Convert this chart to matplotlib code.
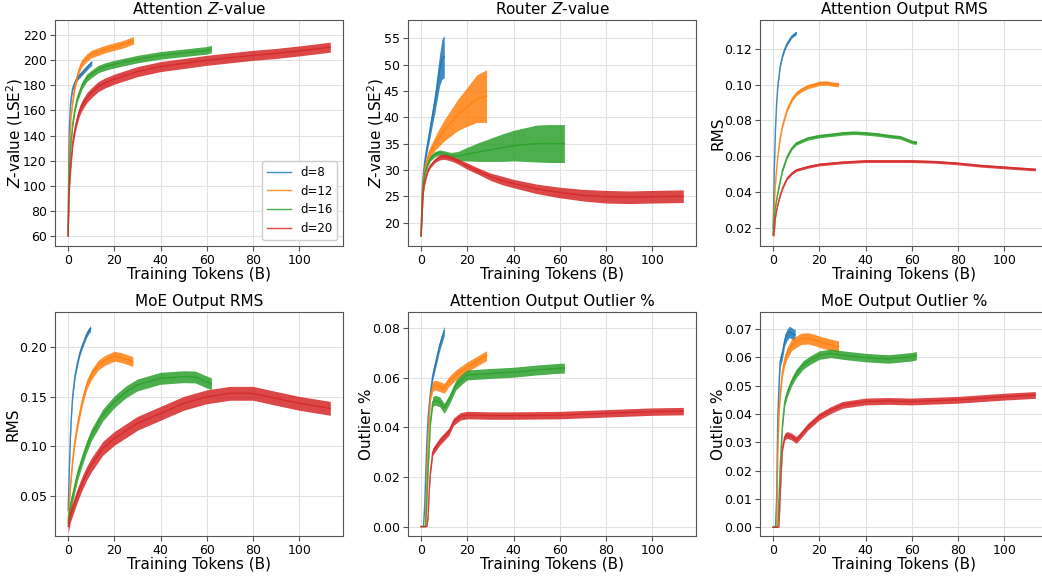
import numpy as np
import matplotlib
matplotlib.use("Agg")
import matplotlib.pyplot as plt

# series labels / colours
depths = ["d=8", "d=12", "d=16", "d=20"]
colors = ["#1f77b4", "#ff7f0e", "#2ca02c", "#d62728"]

# --- Attention Z-value ---
attz_x8 = [0, 0.2, 0.5, 1, 1.5, 2, 3, 4, 5, 6, 7, 8, 9, 10.2]
attz_y8 = [60, 110, 145, 165, 173, 178, 183, 186, 188, 190, 192, 194, 196, 198]
attz_x12 = [0, 0.3, 0.7, 1.2, 2, 3, 4, 5, 6, 8, 10, 13, 16, 20, 24, 28.3]
attz_y12 = [60, 105, 135, 155, 168, 180, 188, 194, 198, 202, 205, 207, 209, 211, 213, 216]
attz_x16 = [0, 0.3, 0.7, 1.2, 2, 3, 4, 6, 8, 10, 13, 16, 20, 25, 30, 40, 50, 60, 62]
attz_y16 = [60, 95, 118, 135, 150, 162, 170, 180, 186, 189, 193, 195, 197, 199, 201, 204, 206, 208, 209]
attz_x20 = [0, 0.3, 0.7, 1.2, 2, 3, 4, 5, 6, 8, 10, 13, 16, 20, 25, 30, 40, 50, 60, 70, 80, 90, 100, 113.5]
attz_y20 = [60, 88, 105, 118, 135, 146, 154, 160, 164, 170, 174, 179, 182, 185, 188, 191, 195, 197.5, 200, 202, 204, 205.5, 207.5, 210.5]
attz_spread = [2, 3, 3, 4]

# --- Router Z-value ---
rtz_x8 = [0, 0.3, 0.6, 1, 1.5, 2, 3, 4, 5, 6, 7, 8, 9, 10]
rtz_y8 = [17.5, 24, 27, 29.5, 31.5, 33, 35.5, 38, 40.5, 43, 46, 49, 51, 51.5]
rtz_s8 = [0.3, 0.5, 0.6, 0.7, 0.8, 1, 1.2, 1.5, 1.7, 2, 2.5, 3, 3.8, 4]
rtz_x12 = [0, 0.3, 0.6, 1, 1.5, 2, 3, 4, 6, 8, 10, 13, 16, 20, 24, 28.3]
rtz_y12 = [17.5, 23, 26, 28.5, 30, 31, 32.5, 33.5, 35, 36.3, 37.5, 39, 40.5, 42, 43.5, 44]
rtz_s12 = [0.3, 0.5, 0.5, 0.6, 0.7, 0.8, 1, 1, 1.3, 1.7, 2, 2.5, 3, 3.7, 4.5, 5]
rtz_x16 = [0, 0.3, 0.6, 1, 1.5, 2, 3, 4, 6, 8, 10, 13, 16, 20, 25, 30, 35, 40, 45, 50, 55, 60, 62]
rtz_y16 = [17.5, 22, 25, 27.5, 29, 30, 31.3, 32.2, 33, 33.3, 33.1, 32.7, 32.6, 33, 33.4, 33.8, 34.2, 34.6, 34.8, 35, 35, 35, 35]
rtz_s16 = [0.3, 0.4, 0.5, 0.5, 0.5, 0.5, 0.5, 0.5, 0.5, 0.5, 0.5, 0.6, 0.9, 1.3, 1.8, 2.2, 2.6, 2.9, 3.2, 3.5, 3.6, 3.6, 3.6]
rtz_x20 = [0, 0.3, 0.6, 1, 1.5, 2, 3, 4, 6, 8, 10, 12, 14, 16, 20, 25, 30, 35, 40, 50, 60, 70, 80, 90, 100, 113.5]
rtz_y20 = [17.5, 20.5, 23, 26, 27.5, 28.5, 30, 30.8, 31.8, 32.4, 32.5, 32.3, 32, 31.6, 30.7, 29.7, 28.7, 28, 27.4, 26.4, 25.7, 25.2, 24.9, 24.8, 24.9, 25]
rtz_s20 = [0.2, 0.3, 0.3, 0.3, 0.4, 0.4, 0.4, 0.4, 0.4, 0.5, 0.5, 0.5, 0.5, 0.5, 0.6, 0.6, 0.7, 0.8, 0.8, 0.9, 1, 1.1, 1.2, 1.2, 1.2, 1.2]

# --- Attention Output RMS ---
arms_x8 = [0, 0.3, 0.6, 1, 1.5, 2, 3, 4, 5, 6, 7, 8, 9, 10]
arms_y8 = [0.02, 0.04, 0.058, 0.075, 0.09, 0.099, 0.110, 0.116, 0.12, 0.123, 0.125, 0.127, 0.128, 0.129]
arms_x12 = [0, 0.3, 0.6, 1, 1.5, 2, 3, 4, 6, 8, 10, 12, 15, 18, 20, 23, 25, 28.3]
arms_y12 = [0.017, 0.028, 0.037, 0.045, 0.053, 0.06, 0.07, 0.077, 0.086, 0.0915, 0.095, 0.097, 0.099, 0.1, 0.1008, 0.101, 0.1005, 0.1]
arms_x16 = [0, 0.3, 0.6, 1, 1.5, 2, 3, 4, 6, 8, 10, 15, 20, 25, 30, 35, 40, 45, 50, 55, 60, 62]
arms_y16 = [0.016, 0.022, 0.027, 0.032, 0.036, 0.0395, 0.046, 0.052, 0.0597, 0.0644, 0.0672, 0.07, 0.0713, 0.072, 0.0728, 0.0732, 0.0728, 0.0722, 0.0713, 0.0706, 0.068, 0.0676]
arms_x20 = [0, 0.3, 0.6, 1, 1.5, 2, 3, 4, 6, 8, 10, 15, 20, 30, 40, 50, 60, 70, 80, 90, 100, 113.5]
arms_y20 = [0.016, 0.016, 0.02, 0.026, 0.03, 0.033, 0.038, 0.042, 0.0476, 0.0504, 0.0523, 0.0541, 0.0554, 0.0566, 0.0573, 0.0573, 0.0573, 0.0569, 0.056, 0.0547, 0.0538, 0.0526]
arms_spread = [0.001, 0.0012, 0.001, 0.0008]

# --- MoE Output RMS ---
mrms_x8 = [0, 0.3, 0.6, 1, 1.5, 2, 3, 4, 5, 6, 7, 8, 9, 9.7]
mrms_y8 = [0.035, 0.06, 0.085, 0.112, 0.135, 0.152, 0.172, 0.184, 0.194, 0.201, 0.207, 0.213, 0.217, 0.219]
mrms_x12 = [0, 0.5, 1, 2, 3, 4, 6, 8, 10, 13, 16, 20, 24, 28]
mrms_y12 = [0.025, 0.045, 0.061, 0.088, 0.107, 0.1215, 0.145, 0.162, 0.172, 0.182, 0.187, 0.191, 0.189, 0.1855]
mrms_x16 = [0, 0.5, 1, 2, 4, 6, 8, 10, 15, 20, 25, 30, 40, 50, 55, 60, 62]
mrms_y16 = [0.022, 0.032, 0.0406, 0.0507, 0.071, 0.086, 0.0996, 0.1114, 0.1316, 0.145, 0.155, 0.162, 0.1687, 0.1703, 0.17, 0.165, 0.163]
mrms_x20 = [0, 0.5, 1, 2, 4, 6, 8, 10, 15, 20, 30, 40, 50, 60, 70, 80, 90, 100, 113.5]
mrms_y20 = [0.019, 0.025, 0.0305, 0.0372, 0.0507, 0.0625, 0.0726, 0.081, 0.098, 0.108, 0.1232, 0.1333, 0.1434, 0.150, 0.1535, 0.1535, 0.1484, 0.1434, 0.1383]
mrms_spread = [0.003, 0.005, 0.006, 0.007]

# --- Attention Output Outlier % ---
aout_x8 = [0, 1, 1.5, 2, 2.5, 3, 4, 5, 6, 7, 8, 9, 10]
aout_y8 = [0, 0, 0.008, 0.022, 0.035, 0.044, 0.054, 0.061, 0.065, 0.069, 0.073, 0.076, 0.079]
aout_x12 = [0, 1.8, 2.5, 3, 4, 5, 6, 8, 10, 12, 15, 20, 25, 28.3]
aout_y12 = [0, 0, 0.02, 0.037, 0.053, 0.0565, 0.0572, 0.0565, 0.0558, 0.0585, 0.0612, 0.0645, 0.0672, 0.069]
aout_x16 = [0, 2, 2.5, 3, 4, 5, 6, 8, 10, 12, 15, 18, 20, 30, 40, 50, 60, 62]
aout_y16 = [0, 0, 0.012, 0.0235, 0.0424, 0.0504, 0.051, 0.0504, 0.0477, 0.051, 0.0571, 0.0598, 0.0612, 0.0618, 0.0623, 0.0632, 0.0639, 0.0639]
aout_x20 = [0, 2.5, 3, 3.5, 4, 5, 6, 8, 10, 12, 14, 17, 20, 30, 40, 60, 80, 100, 113.5]
aout_y20 = [0, 0, 0.0047, 0.015, 0.0222, 0.0302, 0.0316, 0.0343, 0.0363, 0.0383, 0.0423, 0.0445, 0.045, 0.0448, 0.0448, 0.045, 0.0457, 0.0464, 0.0466]
aout_spread = [0.002, 0.002, 0.002, 0.0015]

# --- MoE Output Outlier % ---
mout_x8 = [0, 1, 1.5, 2, 2.5, 3, 4, 5, 6, 7, 8, 9, 9.5]
mout_y8 = [0, 0, 0.01, 0.0385, 0.05, 0.0585, 0.0614, 0.0661, 0.0679, 0.069, 0.0685, 0.0679, 0.068]
mout_x12 = [0, 1.5, 2, 2.5, 3, 4, 5, 6, 8, 10, 12, 15, 18, 20, 25, 28.3]
mout_y12 = [0, 0, 0.0267, 0.04, 0.0467, 0.055, 0.059, 0.0614, 0.0644, 0.0655, 0.0665, 0.0667, 0.0661, 0.0655, 0.0644, 0.0638]
mout_x16 = [0, 2, 2.5, 3, 4, 5, 6, 8, 10, 13, 16, 20, 25, 30, 40, 50, 60, 62]
mout_y16 = [0, 0, 0.01, 0.0208, 0.0361, 0.0443, 0.0473, 0.0514, 0.0543, 0.0573, 0.059, 0.0608, 0.0614, 0.0608, 0.0599, 0.0594, 0.0602, 0.0606]
mout_x20 = [0, 2.5, 3, 3.5, 4, 5, 6, 8, 10, 12, 15, 20, 25, 30, 40, 50, 60, 80, 100, 113.5]
mout_y20 = [0, 0, 0.0102, 0.02, 0.0279, 0.032, 0.0326, 0.032, 0.0308, 0.0326, 0.0355, 0.0391, 0.0414, 0.0432, 0.0444, 0.0446, 0.0444, 0.045, 0.0461, 0.0467]
mout_spread = [0.002, 0.002, 0.0015, 0.0012]

panels = [
    ("Attention $Z$-value", "$Z$-value (LSE$^2$)",
     [(attz_x8, attz_y8, attz_spread[0]), (attz_x12, attz_y12, attz_spread[1]),
      (attz_x16, attz_y16, attz_spread[2]), (attz_x20, attz_y20, attz_spread[3])],
     (51.8, 232.2), [60, 80, 100, 120, 140, 160, 180, 200, 220], "{:.0f}"),
    ("Router $Z$-value", "$Z$-value (LSE$^2$)",
     [(rtz_x8, rtz_y8, rtz_s8), (rtz_x12, rtz_y12, rtz_s12),
      (rtz_x16, rtz_y16, rtz_s16), (rtz_x20, rtz_y20, rtz_s20)],
     (15.55, 58.45), [20, 25, 30, 35, 40, 45, 50, 55], "{:.0f}"),
    ("Attention Output RMS", "RMS",
     [(arms_x8, arms_y8, arms_spread[0]), (arms_x12, arms_y12, arms_spread[1]),
      (arms_x16, arms_y16, arms_spread[2]), (arms_x20, arms_y20, arms_spread[3])],
     (0.0098, 0.1362), [0.02, 0.04, 0.06, 0.08, 0.10, 0.12], "{:.2f}"),
    ("MoE Output RMS", "RMS",
     [(mrms_x8, mrms_y8, mrms_spread[0]), (mrms_x12, mrms_y12, mrms_spread[1]),
      (mrms_x16, mrms_y16, mrms_spread[2]), (mrms_x20, mrms_y20, mrms_spread[3])],
     (0.0093, 0.2357), [0.05, 0.10, 0.15, 0.20], "{:.2f}"),
    ("Attention Output Outlier %", "Outlier %",
     [(aout_x8, aout_y8, aout_spread[0]), (aout_x12, aout_y12, aout_spread[1]),
      (aout_x16, aout_y16, aout_spread[2]), (aout_x20, aout_y20, aout_spread[3])],
     (-0.0038, 0.0866), [0.0, 0.02, 0.04, 0.06, 0.08], "{:.2f}"),
    ("MoE Output Outlier %", "Outlier %",
     [(mout_x8, mout_y8, mout_spread[0]), (mout_x12, mout_y12, mout_spread[1]),
      (mout_x16, mout_y16, mout_spread[2]), (mout_x20, mout_y20, mout_spread[3])],
     (-0.0031, 0.076), [0.0, 0.01, 0.02, 0.03, 0.04, 0.05, 0.06, 0.07], "{:.2f}"),
]

W, H = 1042, 576
fig = plt.figure(figsize=(W / 100, H / 100), dpi=100)

lefts = [55, 408, 760]
rows = [(20, 246), (312, 536)]
aw = 288

for k, (title, ylabel, series, ylim, yticks, fmt) in enumerate(panels):
    top, bot = rows[k // 3]
    left = lefts[k % 3]
    ax = fig.add_axes([left / W, 1 - bot / H, aw / W, (bot - top) / H])
    for j, (xs, ys, sp) in enumerate(series):
        xs = np.array(xs, dtype=float)
        ys = np.array(ys, dtype=float)
        sp = np.broadcast_to(np.array(sp, dtype=float), ys.shape)
        sp = np.where(ys > 0, sp, 0)
        ax.fill_between(xs, ys - sp, ys + sp, color=colors[j], alpha=0.85, lw=0)
        ax.plot(xs, ys, color=colors[j], lw=1, alpha=0.85, label=depths[j])
    ax.set_xlim(-5.7, 119)
    ax.set_ylim(*ylim)
    ax.set_xticks([0, 20, 40, 60, 80, 100])
    ax.set_yticks(yticks)
    ax.set_yticklabels([fmt.format(v) for v in yticks])
    ax.set_title(title, fontsize=11, pad=4)
    ax.set_xlabel("Training Tokens (B)", fontsize=11, labelpad=0)
    ax.set_ylabel(ylabel, fontsize=11, labelpad=-1.5)
    ax.tick_params(labelsize=9, length=3.5, pad=2.5, color="#555555")
    ax.grid(True, color="#e2e2e2", lw=0.8)
    ax.set_axisbelow(True)
    for s in ax.spines.values():
        s.set_color("#555555")
    if k == 0:
        ax.legend(loc="lower right", fontsize=8.5, handlelength=2, framealpha=1,
                  edgecolor="#cccccc")

fig.savefig("out.png", dpi=100)
